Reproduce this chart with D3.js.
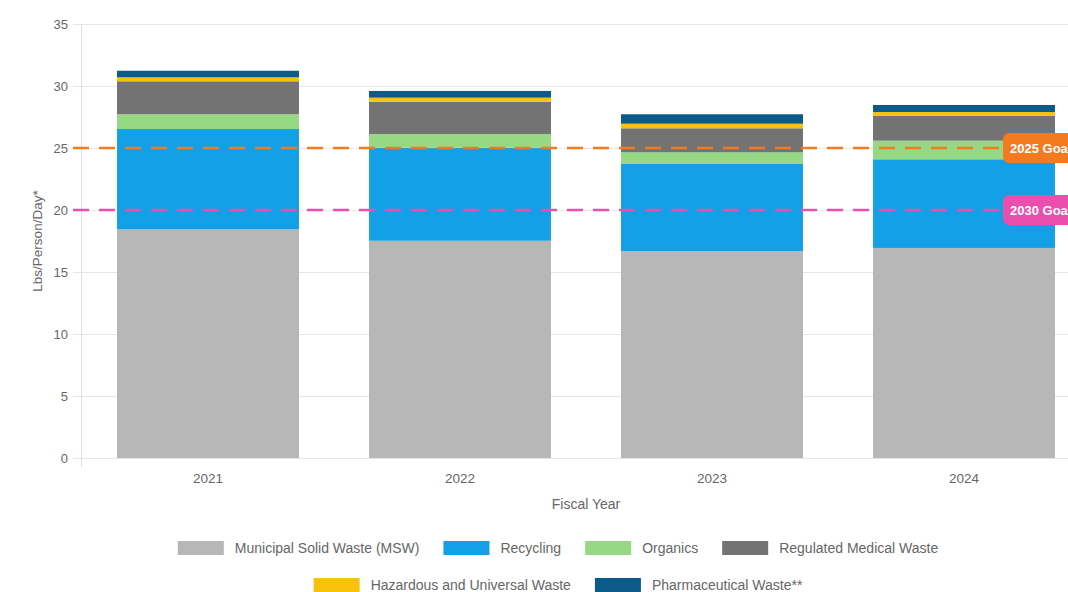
<!DOCTYPE html>
<html>
<head>
<meta charset="utf-8">
<script src="https://cdn.jsdelivr.net/npm/d3@7"></script>
<style>
  html, body { margin: 0; padding: 0; background: #fff; overflow: hidden; }
  svg { font-family: "Liberation Sans", Arial, sans-serif; display: block; }
</style>
</head>
<body>
<div id="chart"></div>
<script>
// Chart size and margins (plot runs off the right edge like the original)
const CHART_WIDTH = 1068;
const CHART_HEIGHT = 592;
const MARGIN = { left: 82, top: 24, bottom: 134 };
const PLOT_RIGHT = 1090;
const LEGEND_CENTER = 558;

// Data
const years = ["2021", "2022", "2023", "2024"];
const seriesNames = ["Municipal Solid Waste (MSW)", "Recycling", "Organics", "Regulated Medical Waste",
  "Hazardous and Universal Waste", "Pharmaceutical Waste**"];
const seriesColors = ["#b7b7b7", "#14a0e6", "#97d884", "#737373", "#f8c20a", "#0b5a8a"];
const msw = [18.44, 17.52, 16.67, 16.94];
const recycling = [8.09, 7.50, 7.04, 7.15];
const organics = [1.19, 1.11, 0.94, 1.50];
const medical = [2.66, 2.60, 1.94, 2.01];
const hazardous = [0.32, 0.33, 0.37, 0.30];
const pharma = [0.53, 0.54, 0.76, 0.57];
const yTicks = [0, 5, 10, 15, 20, 25, 30, 35];
const goals = [
  { label: "2025 Goal", value: 25, color: "#f47a20" },
  { label: "2030 Goal", value: 20, color: "#ea4fae" }
];

const allSeries = [msw, recycling, organics, medical, hazardous, pharma];
const keys = seriesNames;
const table = years.map((y, i) => {
  let row = { year: y };
  keys.forEach((k, j) => row[k] = allSeries[j][i]);
  return row;
});

let svg = d3.select("#chart").append("svg")
  .attr("width", CHART_WIDTH)
  .attr("height", CHART_HEIGHT);

let xScale = d3.scaleBand()
  .domain(years)
  .range([MARGIN.left, PLOT_RIGHT])
  .paddingInner(0.278)
  .paddingOuter(0.139);

let yScale = d3.scaleLinear()
  .domain([0, 35])
  .range([CHART_HEIGHT - MARGIN.bottom, MARGIN.top]);

// Gridlines
svg.append("g").selectAll("line")
  .data(yTicks)
  .join("line")
  .attr("x1", MARGIN.left - 9)
  .attr("x2", PLOT_RIGHT)
  .attr("y1", d => yScale(d) + 0.5)
  .attr("y2", d => yScale(d) + 0.5)
  .attr("stroke", "#e6e6e6")
  .attr("stroke-width", 1);

svg.append("line")
  .attr("x1", MARGIN.left - 0.5).attr("x2", MARGIN.left - 0.5)
  .attr("y1", yScale(35)).attr("y2", yScale(0) + 9)
  .attr("stroke", "#e0e0e0");

// Y axis labels
let yAxis = d3.axisLeft(yScale).tickValues(yTicks).tickSize(0).tickPadding(14);
svg.append("g")
  .attr("transform", `translate(${MARGIN.left}, 0)`)
  .call(yAxis)
  .call(g => g.select(".domain").remove())
  .call(g => g.selectAll("text").attr("fill", "#666").style("font-size", "13px"));

// X axis labels
let xAxis = d3.axisBottom(xScale).tickSize(0).tickPadding(15);
svg.append("g")
  .attr("transform", `translate(0, ${yScale(0)})`)
  .call(xAxis)
  .call(g => g.select(".domain").remove())
  .call(g => g.selectAll("text").attr("fill", "#666").style("font-size", "13.5px"));

// Stacked bars
let stacked = d3.stack().keys(keys)(table);
svg.append("g").selectAll("g")
  .data(stacked)
  .join("g")
  .attr("fill", (d, i) => seriesColors[i])
  .selectAll("rect")
  .data(d => d)
  .join("rect")
  .attr("x", d => xScale(d.data.year))
  .attr("width", xScale.bandwidth())
  .attr("y", d => yScale(d[1]))
  .attr("height", d => yScale(d[0]) - yScale(d[1]));

// Goal lines
let goalG = svg.append("g").selectAll("g").data(goals).join("g");
goalG.append("line")
  .attr("x1", MARGIN.left - 9)
  .attr("x2", PLOT_RIGHT)
  .attr("y1", d => yScale(d.value))
  .attr("y2", d => yScale(d.value))
  .attr("stroke", d => d.color)
  .attr("stroke-width", 2.5)
  .attr("stroke-dasharray", "16 10");
goalG.append("rect")
  .attr("x", 1003)
  .attr("y", d => yScale(d.value) - 15)
  .attr("width", 110)
  .attr("height", 30)
  .attr("rx", 6)
  .attr("fill", d => d.color);
goalG.append("text")
  .attr("x", 1010)
  .attr("y", d => yScale(d.value) + 5)
  .attr("fill", "#fff")
  .style("font-size", "13px")
  .style("font-weight", "bold")
  .text(d => d.label);

// Axis titles
svg.append("text")
  .attr("x", (MARGIN.left + PLOT_RIGHT) / 2)
  .attr("y", 509)
  .attr("text-anchor", "middle")
  .attr("fill", "#666")
  .style("font-size", "14px")
  .text("Fiscal Year");

svg.append("text")
  .attr("transform", "rotate(-90)")
  .attr("x", -(yScale(0) + yScale(35)) / 2)
  .attr("y", 42)
  .attr("text-anchor", "middle")
  .attr("fill", "#666")
  .style("font-size", "13.5px")
  .text("Lbs/Person/Day*");

// Legend, two centred rows
const legendRows = [[0, 1, 2, 3], [4, 5]];
const legendY = [548, 585];
legendRows.forEach((row, r) => {
  let items = row.map(i => ({ name: seriesNames[i], color: seriesColors[i] }));
  let g = svg.append("g");
  let x = 0;
  items.forEach(it => {
    let item = g.append("g").attr("transform", `translate(${x}, 0)`);
    item.append("rect")
      .attr("x", 0).attr("y", -7)
      .attr("width", 46).attr("height", 14)
      .attr("fill", it.color);
    let t = item.append("text")
      .attr("x", 57).attr("y", 5)
      .attr("fill", "#666")
      .style("font-size", "14px")
      .text(it.name);
    x += 57 + t.node().getComputedTextLength() + 24;
  });
  let total = x - 24;
  g.attr("transform", `translate(${LEGEND_CENTER - total / 2}, ${legendY[r]})`);
});
</script>
</body>
</html>
